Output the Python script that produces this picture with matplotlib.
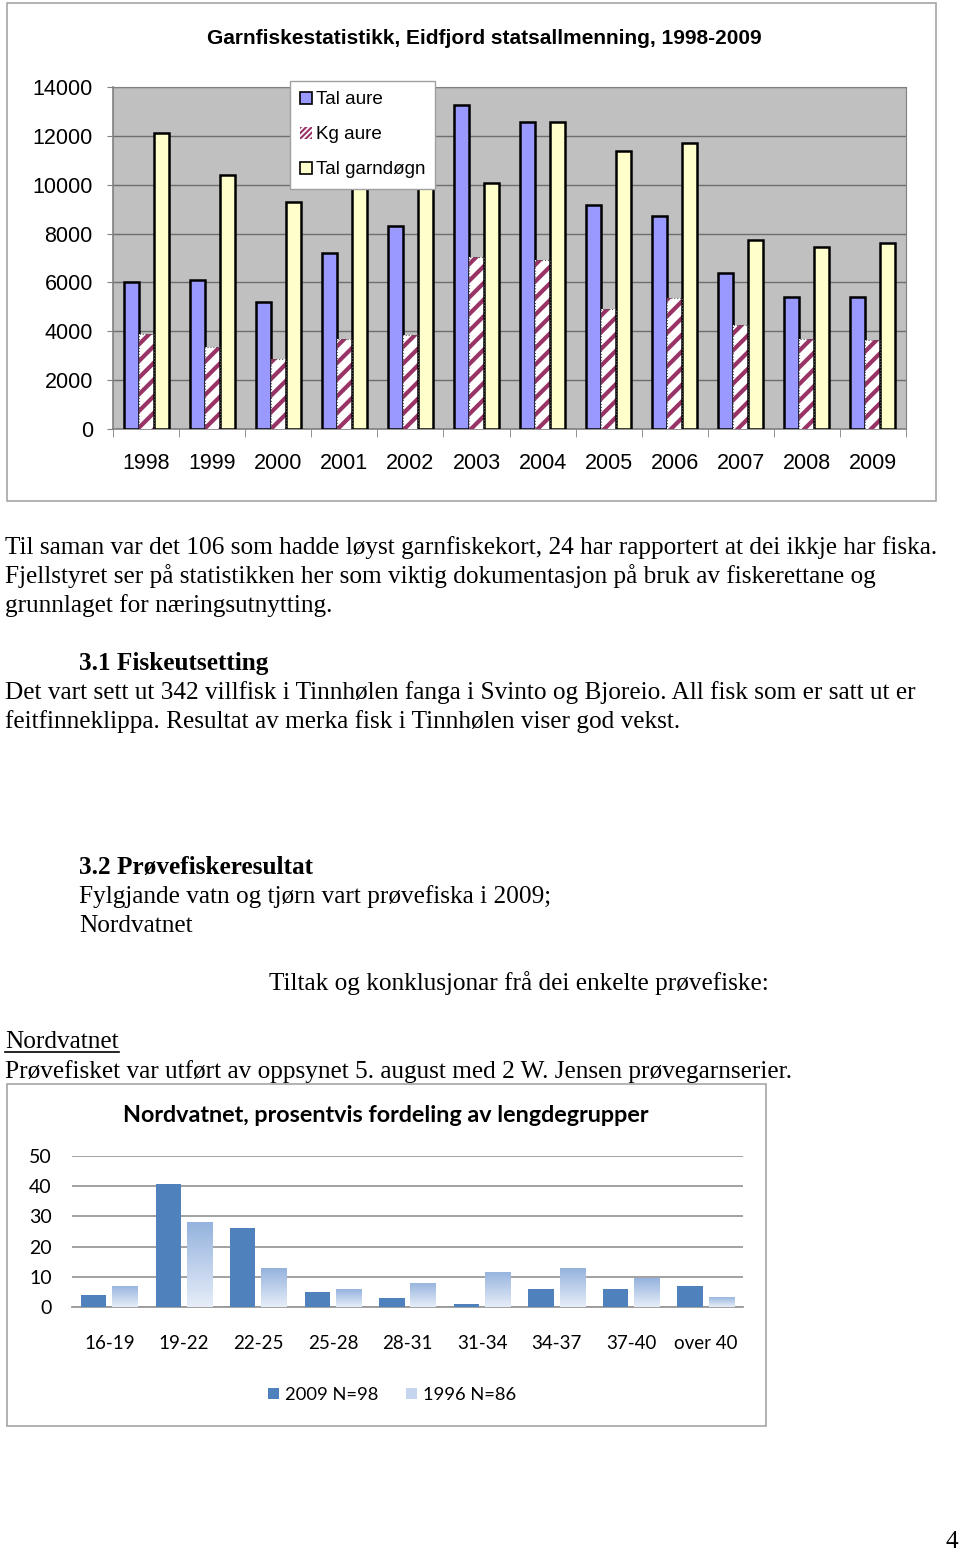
import matplotlib
matplotlib.use("Agg")
import matplotlib.pyplot as plt
import numpy as np
from matplotlib.patches import Patch, Rectangle
from matplotlib.lines import Line2D
from matplotlib.colors import LinearSegmentedColormap

# --- data: garnfiske 1998-2009
years = ["1998", "1999", "2000", "2001", "2002", "2003",
         "2004", "2005", "2006", "2007", "2008", "2009"]
tal_aure = [6000, 6100, 5200, 7200, 8300, 13250, 12550, 9150, 8700, 6400, 5400, 5400]
kg_aure = [3900, 3350, 2850, 3700, 3850, 7050, 6900, 4900, 5350, 4250, 3700, 3650]
tal_garndogn = [12100, 10400, 9300, 9950, 10600, 10050, 12550, 11400, 11700, 7750, 7450, 7600]

# --- data: Nordvatnet lengdegrupper (prosent)
lengd = ["16-19", "19-22", "22-25", "25-28", "28-31", "31-34", "34-37", "37-40", "over 40"]
p2009 = [4.0, 40.7, 26.3, 5.0, 3.0, 1.0, 6.0, 6.0, 7.0]
p1996 = [7.1, 28.1, 12.8, 5.9, 8.1, 11.7, 12.8, 9.5, 3.4]

W, H = 960, 1551
fig = plt.figure(figsize=(W / 100, H / 100), dpi=100)


def box(x0, y0, x1, y1):
    """pixel box (top-left origin) -> figure fraction rect"""
    return [x0 / W, 1 - y1 / H, (x1 - x0) / W, (y1 - y0) / H]


def frame(x0, y0, x1, y1):
    fig.add_artist(Rectangle((x0 / W, 1 - y1 / H), (x1 - x0) / W, (y1 - y0) / H,
                             transform=fig.transFigure, fill=False,
                             edgecolor="#a6a6a6", lw=1.2))


# ============ chart 1 ============
frame(7, 3, 936, 501)
fig.text(484 / W, 1 - 38 / H, "Garnfiskestatistikk, Eidfjord statsallmenning, 1998-2009",
         ha="center", va="center", fontsize=15, fontweight="bold",
         family="Liberation Sans")

ax1 = fig.add_axes(box(113, 87, 906, 429))
ax1.set_facecolor("#c0c0c0")
x = np.arange(len(years))
w = 0.227
plt.rcParams["hatch.linewidth"] = 3.0
ax1.bar(x - w, tal_aure, w, color="#9999ff", edgecolor="black", lw=1.8, zorder=3)
ax1.bar(x, kg_aure, w, color="white", edgecolor="#993366", hatch="//", lw=0, zorder=3)
ax1.bar(x, kg_aure, w, fill=False, edgecolor="#555555", lw=0.8, ls=":", zorder=4)
ax1.bar(x + w, tal_garndogn, w, color="#ffffcc", edgecolor="black", lw=1.8, zorder=3)
ax1.set_xlim(-0.5, len(years) - 0.5)
ax1.set_ylim(0, 14000)
ax1.set_yticks(np.arange(0, 14001, 2000))
ax1.yaxis.grid(True, color="#6e6e6e", lw=1.0)
ax1.set_axisbelow(True)
ax1.set_xticks(x)
ax1.set_xticklabels(years)
ax1.set_xticks(np.arange(-0.5, len(years)), minor=True)
ax1.tick_params(axis="x", which="major", length=0, pad=17, labelsize=15.5)
ax1.tick_params(axis="x", which="minor", length=6, color="#808080")
ax1.tick_params(axis="y", length=4.5, color="#808080", pad=10, labelsize=15.5)
for lab in ax1.get_xticklabels() + ax1.get_yticklabels():
    lab.set_family("Liberation Sans")
for s in ["top", "right"]:
    ax1.spines[s].set_color("#808080")
for s in ["left", "bottom"]:
    ax1.spines[s].set_color("#808080")
    ax1.spines[s].set_linewidth(1.2)

plt.rcParams["hatch.linewidth"] = 1.5
handles1 = [Patch(facecolor="#9999ff", edgecolor="black", lw=1.2),
            Patch(facecolor="white", edgecolor="#993366", hatch="//////", lw=0),
            Patch(facecolor="#ffffcc", edgecolor="black", lw=1.2)]
leg1 = ax1.legend(handles1, ["Tal aure", "Kg aure", "Tal garndøgn"],
                  loc="upper left", bbox_to_anchor=(290 / W, 1 - 81 / H),
                  bbox_transform=fig.transFigure, borderaxespad=0,
                  fancybox=False, framealpha=1, edgecolor="#a0a0a0",
                  handlelength=0.6, handleheight=0.6, handletextpad=0.2,
                  labelspacing=0.95, borderpad=0.55,
                  prop={"family": "Liberation Sans", "size": 13.6})
leg1.set_zorder(10)

# ============ body text ============
serif = "Liberation Serif"
fs = 18.2


def line(px, py, s, **kw):
    return fig.text(px / W, 1 - (py + 1.5) / H, s, ha="left", va="center",
                    fontsize=fs, family=serif, **kw)


line(5, 546, "Til saman var det 106 som hadde løyst garnfiskekort, 24 har rapportert at dei ikkje har fiska.")
line(5, 575, "Fjellstyret ser på statistikken her som viktig dokumentasjon på bruk av fiskerettane og")
line(5, 604, "grunnlaget for næringsutnytting.")
line(79, 662, "3.1 Fiskeutsetting", fontweight="bold")
line(5, 691, "Det vart sett ut 342 villfisk i Tinnhølen fanga i Svinto og Bjoreio. All fisk som er satt ut er")
line(5, 720, "feitfinneklippa. Resultat av merka fisk i Tinnhølen viser god vekst.")
line(79, 866, "3.2 Prøvefiskeresultat", fontweight="bold")
line(79, 895, "Fylgjande vatn og tjørn vart prøvefiska i 2009;")
line(79, 924, "Nordvatnet")
line(269, 982, "Tiltak og konklusjonar frå dei enkelte prøvefiske:")
ul = line(5, 1041, "Nordvatnet")
line(5, 1070, "Prøvefisket var utført av oppsynet 5. august med 2 W. Jensen prøvegarnserier.")
fig.text(958 / W, 1 - 1542 / H, "4", ha="right", va="center", fontsize=fs, family=serif)

fig.canvas.draw()
bb = ul.get_window_extent().transformed(fig.transFigure.inverted())
fig.add_artist(Line2D([bb.x0, bb.x1], [bb.y0 + 1.5 / H, bb.y0 + 1.5 / H],
                      transform=fig.transFigure, color="black", lw=1.2))

# ============ chart 2 ============
frame(7, 1084, 766, 1426)
sans = ["Lato", "DejaVu Sans"]
fig.text(386 / W, 1 - 1116 / H, "Nordvatnet, prosentvis fordeling av lengdegrupper",
         ha="center", va="center", fontsize=16.8, fontweight="bold", family=sans)

ax2 = fig.add_axes(box(72, 1156, 743, 1307))
xi = np.arange(len(lengd))
bw = 0.34
ax2.bar(xi - 0.21, p2009, bw, color="#4f81bd", zorder=3)
bars96 = ax2.bar(xi + 0.21, p1996, bw, color="none", zorder=3)
grad = np.linspace(0, 1, 100).reshape(-1, 1)
cm = LinearSegmentedColormap.from_list("g", ["#e6edf8", "#95b3de"])
for b in bars96:
    bx, by = b.get_x(), b.get_y()
    im = ax2.imshow(grad, cmap=cm, origin="lower", aspect="auto",
                    extent=[bx, bx + b.get_width(), by, by + b.get_height()], zorder=3)
    im.set_clip_path(b)
ax2.set_xlim(-0.5, len(lengd) - 0.5)
ax2.set_ylim(0, 50)
ax2.set_yticks(np.arange(0, 51, 10))
ax2.yaxis.grid(True, color="#9a9a9a", lw=1.3)
ax2.set_axisbelow(True)
ax2.set_xticks(xi)
ax2.set_xticklabels(lengd)
ax2.tick_params(axis="x", length=0, pad=20, labelsize=13.5)
ax2.tick_params(axis="y", length=0, pad=14.5, labelsize=14)
for lab in ax2.get_xticklabels() + ax2.get_yticklabels():
    lab.set_family(sans)
for s in ["top", "right", "left"]:
    ax2.spines[s].set_visible(False)
ax2.spines["bottom"].set_color("#9a9a9a")
ax2.spines["bottom"].set_linewidth(1.3)

handles2 = [Patch(facecolor="#4f81bd"), Patch(facecolor="#c5d5ee")]
ax2.legend(handles2, ["2009 N=98", "1996 N=86"], loc="center",
           bbox_to_anchor=(392 / W, 1 - 1395 / H), bbox_transform=fig.transFigure,
           ncol=2, frameon=False, handlelength=0.6, handleheight=0.6,
           handletextpad=0.35, columnspacing=1.5,
           prop={"family": sans, "size": 13.2})

fig.savefig("out.png", dpi=100)
